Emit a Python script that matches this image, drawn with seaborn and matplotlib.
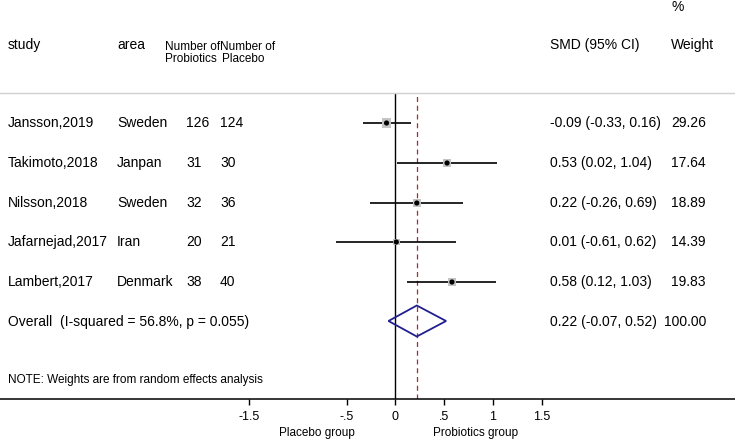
import numpy as np
import matplotlib
matplotlib.use("Agg")
import matplotlib.pyplot as plt
import seaborn as sns
import pandas as pd

# data
studies = ["Jansson,2019", "Takimoto,2018", "Nilsson,2018", "Jafarnejad,2017", "Lambert,2017"]
areas = ["Sweden", "Janpan", "Sweden", "Iran", "Denmark"]
n_probiotics = [126, 31, 32, 20, 38]
n_placebo = [124, 30, 36, 21, 40]
smd = [-0.09, 0.53, 0.22, 0.01, 0.58]
ci_low = [-0.33, 0.02, -0.26, -0.61, 0.12]
ci_high = [0.16, 1.04, 0.69, 0.62, 1.03]
weights = [29.26, 17.64, 18.89, 14.39, 19.83]

overall_smd = 0.22
overall_low = -0.07
overall_high = 0.52
overall_weight = 100.00
overall_label = "Overall  (I-squared = 56.8%, p = 0.055)"

xticks = [-1.5, -0.5, 0, 0.5, 1, 1.5]
xtick_labels = ["-1.5", "-.5", "0", ".5", "1", "1.5"]

sns.set_style("white")
plt.rcParams["font.family"] = ["Liberation Sans", "DejaVu Sans"]
plt.rcParams["text.color"] = "black"
plt.rcParams["xtick.color"] = "black"

W, H = 735, 440
fig = plt.figure(figsize=(W / 100, H / 100), dpi=100)
ax_top, ax_bot = 93, 399
ax = fig.add_axes([0, (H - ax_bot) / H, 1, (ax_bot - ax_top) / H])
ax.set_xlim(-4.05, 3.48)
ax.set_ylim(ax_bot, ax_top)  # y in pixel rows

row_y = [123, 163, 203, 242, 282]
overall_y = 321

df = pd.DataFrame({"study": studies, "smd": smd, "lo": ci_low, "hi": ci_high,
                   "w": weights, "y": row_y})

# confidence intervals
ax.hlines(df["y"], df["lo"], df["hi"], color="black", lw=1.2, zorder=2)
# weight boxes
sns.scatterplot(data=df, x="smd", y="y", marker="s", s=df["w"] * 1.6,
                color="#c4c4c4", edgecolor="none", ax=ax, zorder=3, legend=False)
sns.scatterplot(data=df, x="smd", y="y", s=14, color="black",
                edgecolor="none", ax=ax, zorder=4, legend=False)

# overall diamond
ax.fill([overall_low, overall_smd, overall_high, overall_smd, overall_low],
        [overall_y, overall_y - 15.5, overall_y, overall_y + 15.5, overall_y],
        facecolor="none", edgecolor="#1f1f8f", lw=1.3, zorder=3)

ax.axvline(0, color="black", lw=1.0, zorder=1)
ax.axvline(overall_smd, color="#a03030", lw=0.9, ls=(0, (4, 3)), zorder=1)

# axes styling
for s in ["left", "right"]:
    ax.spines[s].set_visible(False)
ax.spines["top"].set_color("#d0d0d0")
ax.spines["top"].set_linewidth(1.0)
ax.spines["bottom"].set_color("black")
ax.spines["bottom"].set_linewidth(1.1)
ax.set_yticks([])
ax.set_xticks(xticks)
ax.set_xticklabels(xtick_labels)
ax.tick_params(axis="x", direction="out", length=4.5, width=1, pad=4,
               labelsize=9, bottom=True, colors="black")
ax.set_xlabel("")
ax.set_ylabel("")

tr = ax.get_yaxis_transform()
def px(x):
    return x / W

# header
ax.text(px(8), 45, "study", fontsize=10, va="center", transform=tr)
ax.text(px(117), 45, "area", fontsize=10, va="center", transform=tr)
ax.text(px(165), 47, "Number of", fontsize=8.5, va="center", transform=tr)
ax.text(px(165), 59, "Probiotics", fontsize=8.5, va="center", transform=tr)
ax.text(px(220), 47, "Number of", fontsize=8.5, va="center", transform=tr)
ax.text(px(222), 59, "Placebo", fontsize=8.5, va="center", transform=tr)
ax.text(px(550), 45, "SMD (95% CI)", fontsize=10, va="center", transform=tr)
ax.text(px(672), 7, "%", fontsize=10, va="center", transform=tr)
ax.text(px(671), 45, "Weight", fontsize=10, va="center", transform=tr)

# rows
for i in range(len(studies)):
    y = row_y[i]
    ax.text(px(8), y, studies[i], fontsize=10, va="center", transform=tr)
    ax.text(px(117), y, areas[i], fontsize=10, va="center", transform=tr)
    ax.text(px(186), y, str(n_probiotics[i]), fontsize=10, va="center", transform=tr)
    ax.text(px(220), y, str(n_placebo[i]), fontsize=10, va="center", transform=tr)
    ax.text(px(550), y, f"{smd[i]:.2f} ({ci_low[i]:.2f}, {ci_high[i]:.2f})",
            fontsize=10, va="center", transform=tr)
    ax.text(px(706), y, f"{weights[i]:.2f}", fontsize=10, va="center",
            ha="right", transform=tr)

ax.text(px(8), 322, overall_label, fontsize=10, va="center", transform=tr)
ax.text(px(550), 322, f"{overall_smd:.2f} ({overall_low:.2f}, {overall_high:.2f})",
        fontsize=10, va="center", transform=tr)
ax.text(px(706), 322, f"{overall_weight:.2f}", fontsize=10, va="center",
        ha="right", transform=tr)

ax.text(px(8), 380, "NOTE: Weights are from random effects analysis",
        fontsize=8.5, va="center", transform=tr)

# direction labels
ax.text(px(317), 433, "Placebo group", fontsize=8.5, va="center", ha="center", transform=tr)
ax.text(px(476), 433, "Probiotics group", fontsize=8.5, va="center", ha="center", transform=tr)

fig.savefig("out.png", dpi=100)
